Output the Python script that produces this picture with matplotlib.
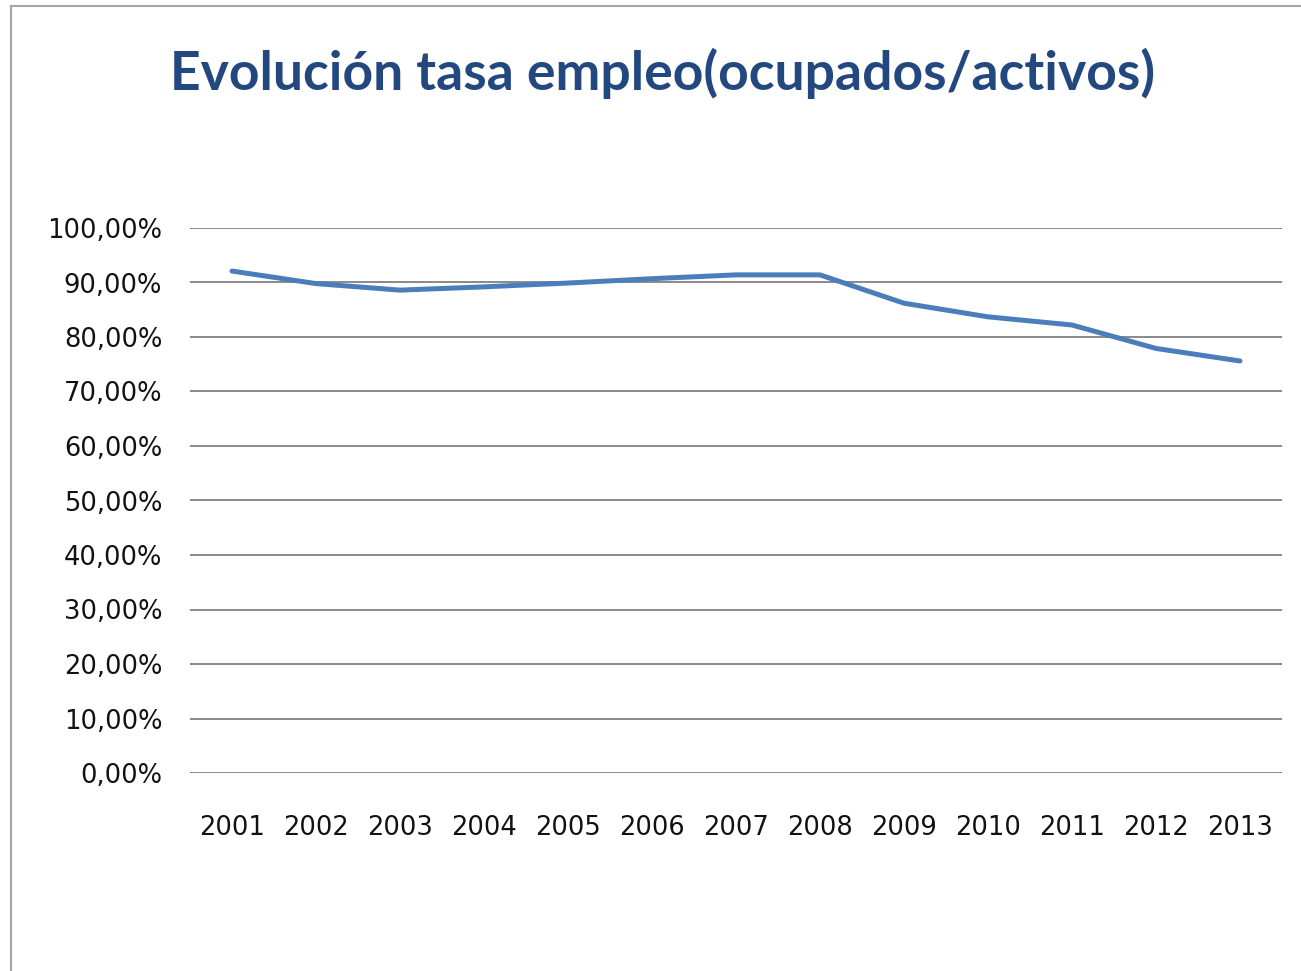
import matplotlib
matplotlib.use("Agg")
import matplotlib.pyplot as plt
from matplotlib.lines import Line2D
from matplotlib.ticker import FuncFormatter

years = ["2001", "2002", "2003", "2004", "2005", "2006", "2007",
         "2008", "2009", "2010", "2011", "2012", "2013"]
tasa_empleo = [0.921, 0.898, 0.886, 0.892, 0.899, 0.907, 0.914,
               0.914, 0.862, 0.837, 0.822, 0.779, 0.756]
y_ticks = [0.0, 0.1, 0.2, 0.3, 0.4, 0.5, 0.6, 0.7, 0.8, 0.9, 1.0]
title = "Evolución tasa empleo(ocupados/activos)"

W, H = 1301, 971
fig = plt.figure(figsize=(W / 100, H / 100), dpi=100)
fig.patch.set_facecolor("white")

# outer chart border (left and top visible)
fig.add_artist(Line2D([11 / W, 11 / W], [0, 1 - 6 / H], transform=fig.transFigure,
                      color="#a6a6a6", lw=1.5))
fig.add_artist(Line2D([11 / W, 1], [1 - 6 / H, 1 - 6 / H], transform=fig.transFigure,
                      color="#a6a6a6", lw=1.5))

left, right = 190 / W, 1282 / W
bottom, top = 1 - 773 / H, 1 - 228 / H
ax = fig.add_axes([left, bottom, right - left, top - bottom])

x = list(range(len(years)))
ax.plot(x, tasa_empleo, color="#4a7ebb", lw=3.6, solid_capstyle="round",
        solid_joinstyle="round", zorder=3)

ax.set_xlim(-0.5, len(years) - 0.5)
ax.set_ylim(0, 1.0)
ax.set_yticks(y_ticks)
ax.yaxis.set_major_formatter(FuncFormatter(lambda v, p: f"{v * 100:.2f}%".replace(".", ",")))
ax.set_xticks(x)
ax.set_xticklabels(years)

for s in ax.spines.values():
    s.set_visible(False)
ax.grid(axis="y", color="#808080", lw=1.3)
ax.set_axisbelow(True)
ax.tick_params(axis="both", length=0, labelsize=18.5, colors="#111111")
ax.tick_params(axis="y", pad=20)
ax.tick_params(axis="x", pad=30)

fig.text(663 / W, 1 - 73 / H, title, ha="center", va="center",
         fontsize=38.5, fontweight="bold", color="#23487f", family="Lato")

fig.savefig("out.png", dpi=100, facecolor="white")
